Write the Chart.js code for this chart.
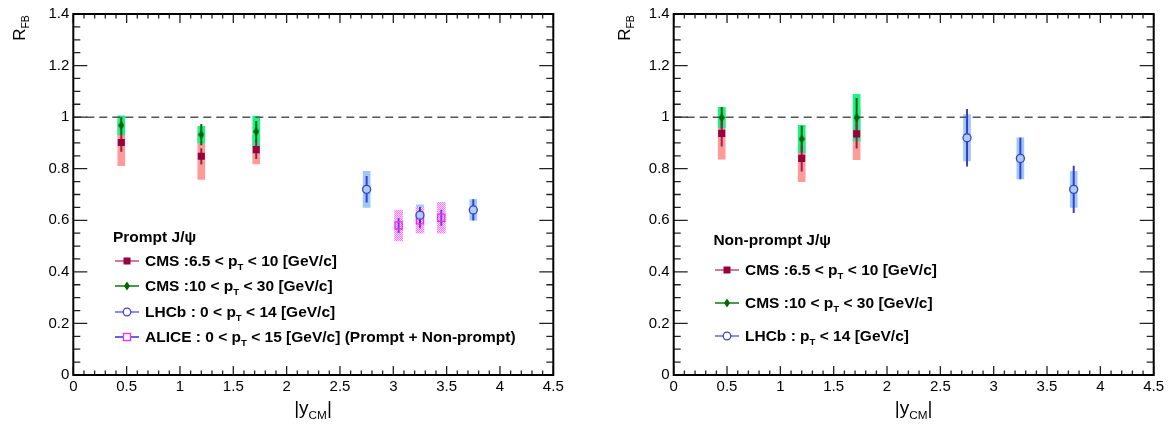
<!DOCTYPE html>
<html>
<head>
<meta charset="utf-8">
<script src="https://cdn.jsdelivr.net/npm/chart.js@4.4.1/dist/chart.umd.min.js"></script>
<style>
    body { margin: 0; background: #fff; font-family: "Liberation Sans", Arial, sans-serif; color: #000; }
    #wrap { position: relative; width: 1168px; height: 430px; overflow: hidden; }
    .panel { position: absolute; top: 0; width: 584px; height: 430px; }
    .panel canvas { position: absolute; left: 0; top: 0; }
    .ytitle { position: absolute; width: 44px; height: 20px; line-height: 20px; font-size: 17px;
              text-align: center; white-space: nowrap; transform: rotate(-90deg); }
    .xtitle { position: absolute; width: 120px; height: 26px; line-height: 22px; font-size: 19px;
              text-align: center; white-space: nowrap; }
    .sub { font-size: 0.62em; vertical-align: -0.42em; line-height: 0; }
    .leg { position: absolute; font-weight: bold; font-size: 15.5px; white-space: nowrap;
           height: 20px; line-height: 20px; display: flex; align-items: center; }
    .leg svg { flex: none; margin-right: 6px; }
</style>
</head>
<body>
<div id="wrap">
    <div class="panel" style="left:0">
        <canvas id="promptChart" width="584" height="430"></canvas>
        <div class="ytitle" style="left:-2px;top:18px">R<span class="sub">FB</span></div>
        <div class="xtitle" style="left:253px;top:397px">|y<span class="sub">CM</span>|</div>

        <div class="leg" style="left:113px;top:227px">Prompt J/ψ</div>
        <div class="leg" style="left:115px;top:251px">
            <svg width="24" height="12"><line x1="0" y1="6" x2="24" y2="6" stroke="#c0506e" stroke-width="1.5"/><rect x="8.5" y="2.5" width="7" height="7" fill="#99003d"/></svg>
            <span>CMS :6.5 &lt; p<span class="sub">T</span> &lt; 10 [GeV/c]</span>
        </div>
        <div class="leg" style="left:115px;top:276px">
            <svg width="24" height="12"><line x1="0" y1="6" x2="24" y2="6" stroke="#117711" stroke-width="1.5"/><polygon points="12,1.5 15,6 12,10.5 9,6" fill="#006600"/></svg>
            <span>CMS :10 &lt; p<span class="sub">T</span> &lt; 30 [GeV/c]</span>
        </div>
        <div class="leg" style="left:115px;top:302px">
            <svg width="24" height="12"><line x1="0" y1="6" x2="24" y2="6" stroke="#6a6ade" stroke-width="1.5"/><circle cx="12" cy="6" r="3.8" fill="#fff" stroke="#4444cc" stroke-width="1.3"/></svg>
            <span>LHCb : 0 &lt; p<span class="sub">T</span> &lt; 14 [GeV/c]</span>
        </div>
        <div class="leg" style="left:115px;top:327px">
            <svg width="24" height="12"><line x1="0" y1="6" x2="24" y2="6" stroke="#3333cc" stroke-width="1.5"/><rect x="8.5" y="2.5" width="7" height="7" fill="#fff" stroke="#ff22ff" stroke-width="1.3"/></svg>
            <span>ALICE : 0 &lt; p<span class="sub">T</span> &lt; 15 [GeV/c] (Prompt + Non-prompt)</span>
        </div>
    </div>

    <div class="panel" style="left:584px">
        <canvas id="nonPromptChart" width="584" height="430"></canvas>
        <div class="ytitle" style="left:18.5px;top:18px">R<span class="sub">FB</span></div>
        <div class="xtitle" style="left:269.7px;top:397px">|y<span class="sub">CM</span>|</div>

        <div class="leg" style="left:129.4px;top:230px">Non-prompt J/ψ</div>
        <div class="leg" style="left:131px;top:260px">
            <svg width="24" height="12"><line x1="0" y1="6" x2="24" y2="6" stroke="#c0506e" stroke-width="1.5"/><rect x="8.5" y="2.5" width="7" height="7" fill="#99003d"/></svg>
            <span>CMS :6.5 &lt; p<span class="sub">T</span> &lt; 10 [GeV/c]</span>
        </div>
        <div class="leg" style="left:131px;top:293.3px">
            <svg width="24" height="12"><line x1="0" y1="6" x2="24" y2="6" stroke="#117711" stroke-width="1.5"/><polygon points="12,1.5 15,6 12,10.5 9,6" fill="#006600"/></svg>
            <span>CMS :10 &lt; p<span class="sub">T</span> &lt; 30 [GeV/c]</span>
        </div>
        <div class="leg" style="left:131px;top:325.7px">
            <svg width="24" height="12"><line x1="0" y1="6" x2="24" y2="6" stroke="#6a6ade" stroke-width="1.5"/><circle cx="12" cy="6" r="3.8" fill="#fff" stroke="#4444cc" stroke-width="1.3"/></svg>
            <span>LHCb : p<span class="sub">T</span> &lt; 14 [GeV/c]</span>
        </div>
    </div>
</div>

<script>
// axis ranges and tick divisions (ROOT style: major + minor, ticks inside the frame)
const X_MIN = 0, X_MAX = 4.5, X_MAJOR = 0.5, X_MINOR = 0.1;
const Y_MIN = 0, Y_MAX = 1.4, Y_MAJOR = 0.2, Y_MINOR = 0.05;
const REF_LEVEL = 1;

// rapidity bin centres |y_CM|
const Y_CMS = [0.45, 1.2, 1.715];
const Y_LHCB = [2.75, 3.25, 3.75];
const Y_ALICE = [3.05, 3.25, 3.45];

// prompt J/psi
const PR_CMS_LOW = [0.902, 0.848, 0.874];
const PR_CMS_LOW_STAT = [0.035, 0.03, 0.035];
const PR_CMS_LOW_SYST = [0.09, 0.09, 0.055];
const PR_CMS_HIGH = [0.968, 0.932, 0.944];
const PR_CMS_HIGH_STAT = [0.03, 0.04, 0.04];
const PR_CMS_HIGH_SYST = [0.037, 0.032, 0.06];
const PR_LHCB = [0.72, 0.62, 0.64];
const PR_LHCB_STAT = [0.05, 0.03, 0.04];
const PR_LHCB_SYST = [0.07, 0.04, 0.04];
const PR_ALICE = [0.58, 0.60, 0.61];
const PR_ALICE_STAT = [0.028, 0.03, 0.03];
const PR_ALICE_SYST = [0.06, 0.05, 0.06];

// non-prompt J/psi
const NP_CMS_LOW = [0.937, 0.84, 0.935];
const NP_CMS_LOW_STAT = [0.05, 0.05, 0.055];
const NP_CMS_LOW_SYST = [0.10, 0.09, 0.10];
const NP_CMS_HIGH = [0.998, 0.915, 0.998];
const NP_CMS_HIGH_STAT = [0.04, 0.05, 0.075];
const NP_CMS_HIGH_SYST = [0.04, 0.053, 0.09];
const NP_LHCB = [0.92, 0.84, 0.72];
const NP_LHCB_STAT = [0.11, 0.08, 0.09];
const NP_LHCB_SYST = [0.09, 0.08, 0.07];

const FONT = '"Liberation Sans", Arial, sans-serif';
Chart.defaults.font.family = FONT;

// thin diamond marker (ROOT marker 33 look)
function makeDiamond(w, h, color) {
    const c = document.createElement('canvas');
    c.width = w; c.height = h;
    const g = c.getContext('2d');
    g.fillStyle = color;
    g.beginPath();
    g.moveTo(w / 2, 0); g.lineTo(w, h / 2); g.lineTo(w / 2, h); g.lineTo(0, h / 2);
    g.closePath();
    g.fill();
    return c;
}

// dotted hatch used by ALICE syst boxes
function makeHatch() {
    const c = document.createElement('canvas');
    c.width = 2; c.height = 2;
    const g = c.getContext('2d');
    g.fillStyle = '#ffd4ff'; g.fillRect(0, 0, 2, 2);
    g.fillStyle = '#ff7cff'; g.fillRect(0, 0, 1, 1); g.fillRect(1, 1, 1, 1);
    return g.createPattern(c, 'repeat');
}

const DIAMOND = makeDiamond(6, 9, '#006600');
const HATCH = makeHatch();

// ROOT prints 1 not 1.0
const tickLabel = (v) => String(Number(v.toFixed(2)));

// syst boxes and stat bars are floating bars on the linear x axis
function bandSet(xs, ys, errs, color, width, order) {
    return {
        type: 'bar',
        data: xs.map((x, i) => ({ x, y: [ys[i] - errs[i], ys[i] + errs[i]] })),
        backgroundColor: color,
        borderWidth: 0,
        barThickness: width,
        stack: 'all',
        order
    };
}

function markerSet(xs, ys, style, radius, fill, stroke, bw) {
    return {
        type: 'scatter',
        data: xs.map((x, i) => ({ x, y: ys[i] })),
        pointStyle: style,
        pointRadius: radius,
        backgroundColor: fill,
        borderColor: stroke,
        borderWidth: bw,
        order: 0
    };
}

function refLine() {
    return {
        type: 'line',
        data: [{ x: X_MIN, y: REF_LEVEL }, { x: X_MAX, y: REF_LEVEL }],
        borderColor: '#555',
        borderWidth: 1.5,
        borderDash: [8, 5],
        pointRadius: 0,
        order: 2
    };
}

// frame + inner ticks on all four sides
const rootFrame = {
    id: 'rootFrame',
    afterDatasetsDraw(chart) {
        const { ctx, chartArea: a, scales: { x, y } } = chart;
        ctx.save();
        ctx.strokeStyle = '#222';
        ctx.lineWidth = 1.3;
        ctx.beginPath();
        const ny = Math.round((Y_MAX - Y_MIN) / Y_MINOR);
        const yEvery = Math.round(Y_MAJOR / Y_MINOR);
        for (let i = 0; i <= ny; i++) {
            const py = y.getPixelForValue(Y_MIN + i * Y_MINOR);
            const len = i % yEvery === 0 ? 14 : 7;
            ctx.moveTo(a.left, py); ctx.lineTo(a.left + len, py);
            ctx.moveTo(a.right, py); ctx.lineTo(a.right - len, py);
        }
        const nx = Math.round((X_MAX - X_MIN) / X_MINOR);
        const xEvery = Math.round(X_MAJOR / X_MINOR);
        for (let i = 0; i <= nx; i++) {
            const px = x.getPixelForValue(X_MIN + i * X_MINOR);
            const len = i % xEvery === 0 ? 9 : 4.5;
            ctx.moveTo(px, a.bottom); ctx.lineTo(px, a.bottom - len);
            ctx.moveTo(px, a.top); ctx.lineTo(px, a.top + len);
        }
        ctx.stroke();
        ctx.lineWidth = 2;
        ctx.strokeStyle = '#000';
        ctx.strokeRect(a.left, a.top, a.right - a.left, a.bottom - a.top);
        ctx.restore();
    }
};

function makeChart(id, datasets, yAxisWidth, rightPad) {
    const tickFont = { size: 15, family: FONT };
    return new Chart(document.getElementById(id), {
        type: 'scatter',
        data: { datasets },
        options: {
            responsive: false,
            animation: false,
            devicePixelRatio: 1,
            layout: { padding: { left: 0, top: 14, right: rightPad, bottom: 25 } },
            scales: {
                x: {
                    type: 'linear', min: X_MIN, max: X_MAX, offset: false,
                    grid: { display: false, drawTicks: false },
                    border: { display: false },
                    ticks: { stepSize: X_MAJOR, padding: 3, color: '#000', font: tickFont, maxRotation: 0, autoSkip: false, callback: tickLabel },
                    afterFit: (s) => { s.height = 30; }
                },
                y: {
                    type: 'linear', min: Y_MIN, max: Y_MAX, stacked: false,
                    grid: { display: false, drawTicks: false },
                    border: { display: false },
                    ticks: { stepSize: Y_MAJOR, padding: 4, color: '#000', font: tickFont, callback: tickLabel },
                    afterFit: (s) => { s.width = yAxisWidth; }
                }
            },
            plugins: { legend: { display: false }, tooltip: { enabled: false } }
        },
        plugins: [rootFrame]
    });
}

// ---------------------------------------------------------
// PROMPT J/psi
// ---------------------------------------------------------
makeChart('promptChart', [
    markerSet(Y_CMS, PR_CMS_LOW, 'rect', 5, '#99003d', '#99003d', 0),
    markerSet(Y_CMS, PR_CMS_HIGH, DIAMOND, 5, '#006600', '#006600', 0),
    markerSet(Y_LHCB, PR_LHCB, 'circle', 4, '#a9cff5', '#3c3cd2', 1.3),
    markerSet(Y_ALICE, PR_ALICE, 'rect', 5, 'rgba(0,0,0,0)', '#ff22ff', 1.3),
    bandSet(Y_CMS, PR_CMS_LOW, PR_CMS_LOW_STAT, '#9a2245', 1.3, 1),
    bandSet(Y_CMS, PR_CMS_HIGH, PR_CMS_HIGH_STAT, '#006600', 1.3, 1),
    bandSet(Y_LHCB, PR_LHCB, PR_LHCB_STAT, '#3a3acc', 1.3, 1),
    bandSet(Y_ALICE, PR_ALICE, PR_ALICE_STAT, '#5a4ad8', 1.3, 1),
    refLine(),
    bandSet(Y_ALICE, PR_ALICE, PR_ALICE_SYST, HATCH, 8, 3),
    bandSet(Y_CMS, PR_CMS_HIGH, PR_CMS_HIGH_SYST, '#1ff08a', 7, 4),
    bandSet(Y_CMS, PR_CMS_LOW, PR_CMS_LOW_SYST, '#ff9a9a', 7, 5),
    bandSet(Y_LHCB, PR_LHCB, PR_LHCB_SYST, '#9cc8fa', 7, 5)
], 73.3, 30.7);

// ---------------------------------------------------------
// NON-PROMPT J/psi
// ---------------------------------------------------------
makeChart('nonPromptChart', [
    markerSet(Y_CMS, NP_CMS_LOW, 'rect', 5, '#99003d', '#99003d', 0),
    markerSet(Y_CMS, NP_CMS_HIGH, DIAMOND, 5, '#006600', '#006600', 0),
    markerSet(Y_LHCB, NP_LHCB, 'circle', 4, '#a9cff5', '#3c3cd2', 1.3),
    bandSet(Y_CMS, NP_CMS_LOW, NP_CMS_LOW_STAT, '#9a2245', 1.3, 1),
    bandSet(Y_CMS, NP_CMS_HIGH, NP_CMS_HIGH_STAT, '#006600', 1.3, 1),
    bandSet(Y_LHCB, NP_LHCB, NP_LHCB_STAT, '#3a3acc', 1.3, 1),
    refLine(),
    bandSet(Y_CMS, NP_CMS_HIGH, NP_CMS_HIGH_SYST, '#1ff08a', 7, 4),
    bandSet(Y_CMS, NP_CMS_LOW, NP_CMS_LOW_SYST, '#ff9a9a', 7, 5),
    bandSet(Y_LHCB, NP_LHCB, NP_LHCB_SYST, '#9cc8fa', 7, 5)
], 89.7, 14.3);
</script>
</body>
</html>
